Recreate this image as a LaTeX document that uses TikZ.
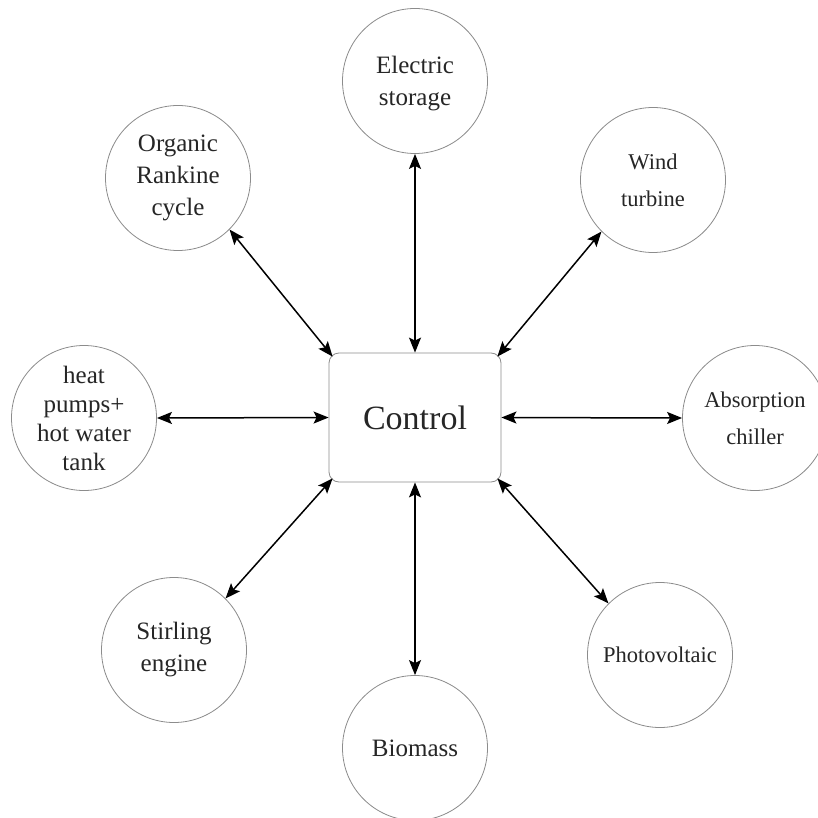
\documentclass[tikz,border=0pt]{standalone}
\usepackage{fontspec}
\setmainfont{Liberation Serif}
\usetikzlibrary{arrows.meta}
\tikzset{
  unit/.style={circle, draw=black!45, line width=0.8pt, minimum size=145pt, inner sep=0pt,
    align=center, text=black!85, font=\fontsize{25}{32}\selectfont},
  small/.style={font=\fontsize{22.5}{37}\selectfont},
  ctrlbox/.style={draw=black!45, line width=0.8pt, rounded corners=10pt, minimum width=172pt,
    minimum height=129pt, inner sep=0pt, text=black!85, font=\fontsize{34}{36}\selectfont},
  link/.style={line width=1.5pt, {Stealth[length=15pt,width=12pt,inset=3pt]}-{Stealth[length=15pt,width=12pt,inset=3pt]}}
}
\begin{document}
\begin{tikzpicture}[x=1pt,y=-1pt]
\useasboundingbox (0,0) rectangle (818,818);
\clip (0,0) rectangle (818,818);
\fill[white] (0,0) rectangle (818,818);
\node[ctrlbox] (ctrl) at (415,417.5) {Control};
\node[unit] (es)  at (415,81)  {\strut Electric\\storage};
\node[unit] (orc) at (178,178) {Organic\\Rankine\\cycle};
\node[unit,small] (wt)  at (653,180) {Wind\\turbine};
\node[unit,font=\fontsize{25}{29}\selectfont] (hp)  at (84,418) {heat\\pumps+\\hot water\\tank};
\node[unit,small] (ac)  at (755,418) {Absorption\\chiller};
\node[unit] (st)  at (174,650) {Stirling\\engine};
\node[unit,small] (pv)  at (660,655) {Photovoltaic};
\node[unit] (bio) at (415,748) {Biomass};
\draw[link] (es.south) -- (ctrl.north);
\draw[link] (orc.-45) -- ([xshift=4pt,yshift=-4pt]ctrl.north west);
\draw[link] (wt.-135) -- ([xshift=-4pt,yshift=-4pt]ctrl.north east);
\draw[link] (hp.east) -- (ctrl.west);
\draw[link] (ctrl.east) -- (ac.west);
\draw[link] (st.45) -- ([xshift=4pt,yshift=4pt]ctrl.south west);
\draw[link] (pv.135) -- ([xshift=-4pt,yshift=4pt]ctrl.south east);
\draw[link] (ctrl.south) -- (bio.north);
\end{tikzpicture}
\end{document}
